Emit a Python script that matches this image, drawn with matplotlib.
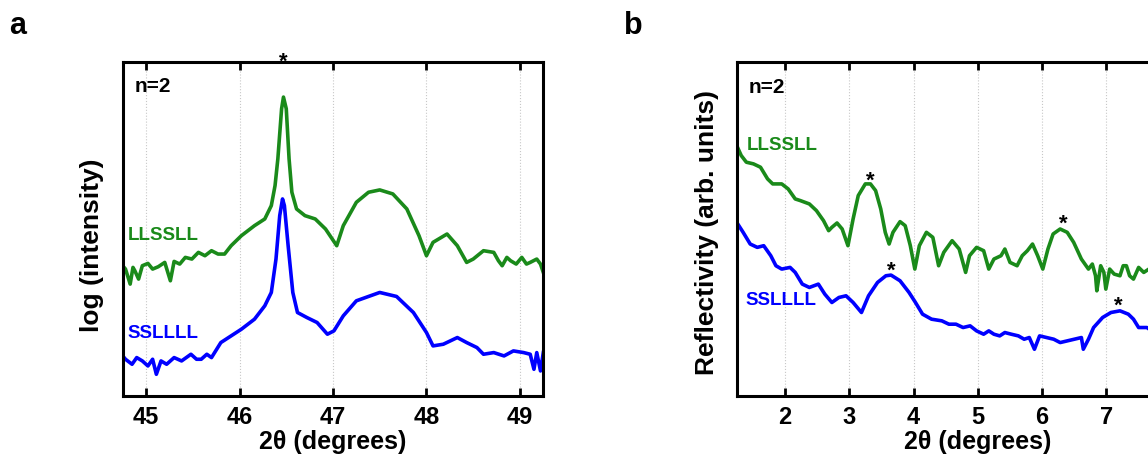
import matplotlib
matplotlib.use("Agg")
import matplotlib.pyplot as plt

plt.rcParams["font.family"] = ["Liberation Sans", "DejaVu Sans"]
plt.rcParams["font.weight"] = "bold"

GREEN = "#1a8a1a"
BLUE = "#0000ff"

# panel a: XRD around the (002) peak, arbitrary log-intensity units
xa_llssll = [44.75, 44.78, 44.83, 44.86, 44.88, 44.92, 44.96, 45.02, 45.07, 45.13, 45.20,
             45.26, 45.30, 45.36, 45.42, 45.49, 45.56, 45.63, 45.70, 45.77, 45.84, 45.91,
             46.02, 46.16, 46.27, 46.34, 46.38, 46.41, 46.45, 46.47, 46.50, 46.53, 46.56,
             46.61, 46.70, 46.81, 46.92, 47.04, 47.11, 47.25, 47.38, 47.50, 47.64, 47.79,
             47.92, 48.00, 48.07, 48.22, 48.33, 48.43, 48.50, 48.61, 48.72, 48.77, 48.81,
             48.86, 48.90, 48.96, 49.02, 49.07, 49.11, 49.18, 49.22, 49.25]
ya_llssll = [39.0, 38.0, 33.5, 38.5, 37.5, 35.0, 39.0, 39.7, 38.0, 38.7, 40.0,
             34.5, 40.3, 39.5, 41.5, 41.0, 43.0, 42.0, 43.5, 42.5, 42.5, 45.0,
             48.0, 51.0, 53.0, 57.0, 63.0, 71.0, 86.0, 89.5, 86.0, 71.0, 61.0,
             56.0, 54.0, 53.0, 50.0, 45.0, 51.0, 58.0, 61.0, 61.7, 60.5, 56.0,
             48.0, 42.0, 46.0, 48.5, 45.0, 40.0, 41.0, 43.5, 43.0, 40.5, 39.0,
             41.5, 40.5, 39.5, 41.5, 39.5, 40.0, 41.0, 39.5, 37.0]

xa_sslll = [44.75, 44.78, 44.85, 44.90, 44.96, 45.02, 45.07, 45.11, 45.16, 45.22, 45.30,
            45.38, 45.48, 45.54, 45.59, 45.65, 45.70, 45.80, 45.91, 46.02, 46.16, 46.27,
            46.34, 46.39, 46.43, 46.46, 46.48, 46.52, 46.57, 46.62, 46.72, 46.83, 46.94,
            47.01, 47.11, 47.25, 47.50, 47.68, 47.86, 48.00, 48.07, 48.18, 48.33, 48.43,
            48.54, 48.61, 48.72, 48.83, 48.93, 49.04, 49.11, 49.15, 49.18, 49.22, 49.25]
ya_sslll = [12.0, 11.0, 9.5, 11.5, 10.5, 9.0, 11.0, 6.5, 10.5, 9.5, 11.5,
            10.5, 12.5, 11.0, 11.0, 12.5, 11.5, 16.0, 18.0, 20.0, 23.0, 27.0,
            31.0, 41.0, 54.0, 59.0, 57.0, 45.0, 31.0, 25.0, 23.5, 22.0, 18.5,
            19.5, 24.0, 28.5, 31.0, 29.8, 25.0, 19.0, 15.0, 15.5, 17.5, 16.0,
            14.5, 12.5, 13.0, 12.0, 13.5, 13.0, 12.5, 8.0, 13.0, 7.5, 13.0]

# panel b: low-angle reflectivity
xb_llssll = [1.25, 1.32, 1.40, 1.51, 1.62, 1.73, 1.81, 1.95, 2.05, 2.16, 2.24, 2.38, 2.49,
             2.60, 2.68, 2.73, 2.81, 2.89, 2.98, 3.06, 3.14, 3.25, 3.33, 3.41, 3.49, 3.56,
             3.62, 3.68, 3.79, 3.87, 3.95, 4.02, 4.09, 4.20, 4.30, 4.39, 4.47, 4.60, 4.71,
             4.81, 4.87, 4.98, 5.09, 5.17, 5.25, 5.36, 5.42, 5.50, 5.61, 5.69, 5.77, 5.85,
             5.93, 6.01, 6.09, 6.17, 6.28, 6.39, 6.49, 6.61, 6.72, 6.78, 6.83, 6.85, 6.91,
             6.96, 6.99, 7.05, 7.12, 7.21, 7.26, 7.31, 7.36, 7.42, 7.50, 7.58, 7.66, 7.75]
yb_llssll = [75.0, 72.0, 70.0, 69.5, 68.5, 65.0, 63.5, 63.5, 62.0, 59.0, 58.5, 57.5, 55.5,
             52.5, 49.5, 50.5, 51.8, 50.0, 45.0, 53.0, 60.0, 63.5, 63.5, 61.5, 56.0, 49.0,
             45.5, 49.0, 52.2, 51.0, 45.0, 38.0, 45.0, 49.0, 47.5, 39.0, 43.0, 46.5, 44.0,
             37.0, 42.0, 44.5, 43.5, 38.0, 41.0, 42.0, 44.0, 40.0, 39.0, 42.0, 43.5, 45.5,
             42.0, 38.0, 44.0, 48.5, 50.0, 49.0, 46.0, 41.0, 38.0, 39.5, 36.0, 31.5, 39.0,
             37.0, 32.0, 38.0, 36.5, 36.0, 39.0, 39.0, 36.0, 35.0, 38.5, 37.0, 38.0, 37.5]

xb_sslll = [1.25, 1.35, 1.46, 1.57, 1.67, 1.78, 1.86, 1.95, 2.08, 2.16, 2.27, 2.38, 2.52,
            2.62, 2.73, 2.84, 2.95, 3.06, 3.19, 3.30, 3.44, 3.57, 3.65, 3.79, 3.93, 4.03,
            4.14, 4.28, 4.44, 4.55, 4.66, 4.77, 4.88, 4.98, 5.09, 5.17, 5.25, 5.34, 5.42,
            5.52, 5.63, 5.72, 5.80, 5.88, 5.96, 6.07, 6.18, 6.28, 6.39, 6.50, 6.61, 6.64,
            6.72, 6.80, 6.94, 7.07, 7.21, 7.34, 7.42, 7.50, 7.63, 7.70, 7.75]
yb_sslll = [52.0, 49.0, 45.5, 44.5, 45.0, 42.0, 39.0, 38.0, 38.5, 37.0, 33.5, 32.5, 33.5,
            30.5, 28.0, 29.5, 30.0, 28.0, 25.0, 30.0, 34.0, 36.0, 36.2, 34.5, 31.0, 28.0,
            24.5, 23.0, 22.5, 21.5, 21.5, 20.5, 21.0, 19.5, 18.5, 19.5, 18.5, 18.0, 19.0,
            18.5, 18.0, 17.0, 17.5, 14.0, 18.0, 17.5, 17.0, 16.0, 16.5, 17.0, 17.5, 14.0,
            17.0, 20.5, 23.5, 25.0, 25.5, 24.5, 23.0, 20.5, 20.5, 19.5, 19.0]

stars_b_x = [3.33, 3.65, 6.33, 7.18]
stars_b_y = [66.5, 39.5, 53.5, 29.0]

fig = plt.figure(figsize=(11.48, 4.57), dpi=100)
ax_a = fig.add_axes([122.7 / 1148, 61 / 457, 420.6 / 1148, 334 / 457])
ax_b = fig.add_axes([736.7 / 1148, 61 / 457, 482.3 / 1148, 334 / 457])


def style_axes(ax):
    for sp in ax.spines.values():
        sp.set_linewidth(2.2)
    ax.tick_params(axis="x", direction="in", length=6, width=2, top=True,
                   labelsize=17, pad=7)
    ax.set_yticks([])
    ax.grid(axis="x", linestyle=":", color="#c8c8c8", linewidth=0.8)
    ax.set_ylim(0, 100)
    for lab in ax.get_xticklabels():
        lab.set_fontweight("bold")


ax_a.plot(xa_llssll, ya_llssll, color=GREEN, lw=2.6)
ax_a.plot(xa_sslll, ya_sslll, color=BLUE, lw=2.6)
ax_a.set_xlim(44.75, 49.25)
ax_a.set_xticks([45, 46, 47, 48, 49])
style_axes(ax_a)
ax_a.text(44.88, 92.8, "n=2", fontsize=15, fontweight="bold", va="center")
ax_a.text(44.80, 48.0, "LLSSLL", fontsize=13.5, fontweight="bold", color=GREEN, va="center")
ax_a.text(44.80, 18.7, "SSLLLL", fontsize=13.5, fontweight="bold", color=BLUE, va="center")
ax_a.text(46.47, 98.2, "*", fontsize=16, fontweight="bold", ha="center",
          va="baseline", clip_on=False)
ax_a.set_xlabel("2θ (degrees)", fontsize=18, fontweight="bold")
ax_a.xaxis.set_label_coords(0.5, -0.103)
ax_a.set_ylabel("log (intensity)", fontsize=19, fontweight="bold")
ax_a.yaxis.set_label_coords(-0.044, 0.45)

ax_b.plot(xb_llssll, yb_llssll, color=GREEN, lw=2.6)
ax_b.plot(xb_sslll, yb_sslll, color=BLUE, lw=2.6)
ax_b.set_xlim(1.25, 8.75)
ax_b.set_xticks([2, 3, 4, 5, 6, 7])
style_axes(ax_b)
ax_b.text(1.43, 92.5, "n=2", fontsize=15, fontweight="bold", va="center")
ax_b.text(1.40, 75.0, "LLSSLL", fontsize=13.5, fontweight="bold", color=GREEN, va="center")
ax_b.text(1.38, 28.5, "SSLLLL", fontsize=13.5, fontweight="bold", color=BLUE, va="center")
for sx, sy in zip(stars_b_x, stars_b_y):
    ax_b.text(sx, sy - 3.8, "*", fontsize=16, fontweight="bold", ha="center", va="baseline")
ax_b.set_xlabel("2θ (degrees)", fontsize=18, fontweight="bold")
ax_b.xaxis.set_label_coords(0.5, -0.103)
ax_b.set_ylabel("Reflectivity (arb. units)", fontsize=19, fontweight="bold")
ax_b.yaxis.set_label_coords(-0.037, 0.49)

fig.text(0.008, 0.926, "a", fontsize=22, fontweight="bold", va="baseline")
fig.text(0.5436, 0.926, "b", fontsize=22, fontweight="bold", va="baseline")

fig.savefig("out.png", dpi=100)
